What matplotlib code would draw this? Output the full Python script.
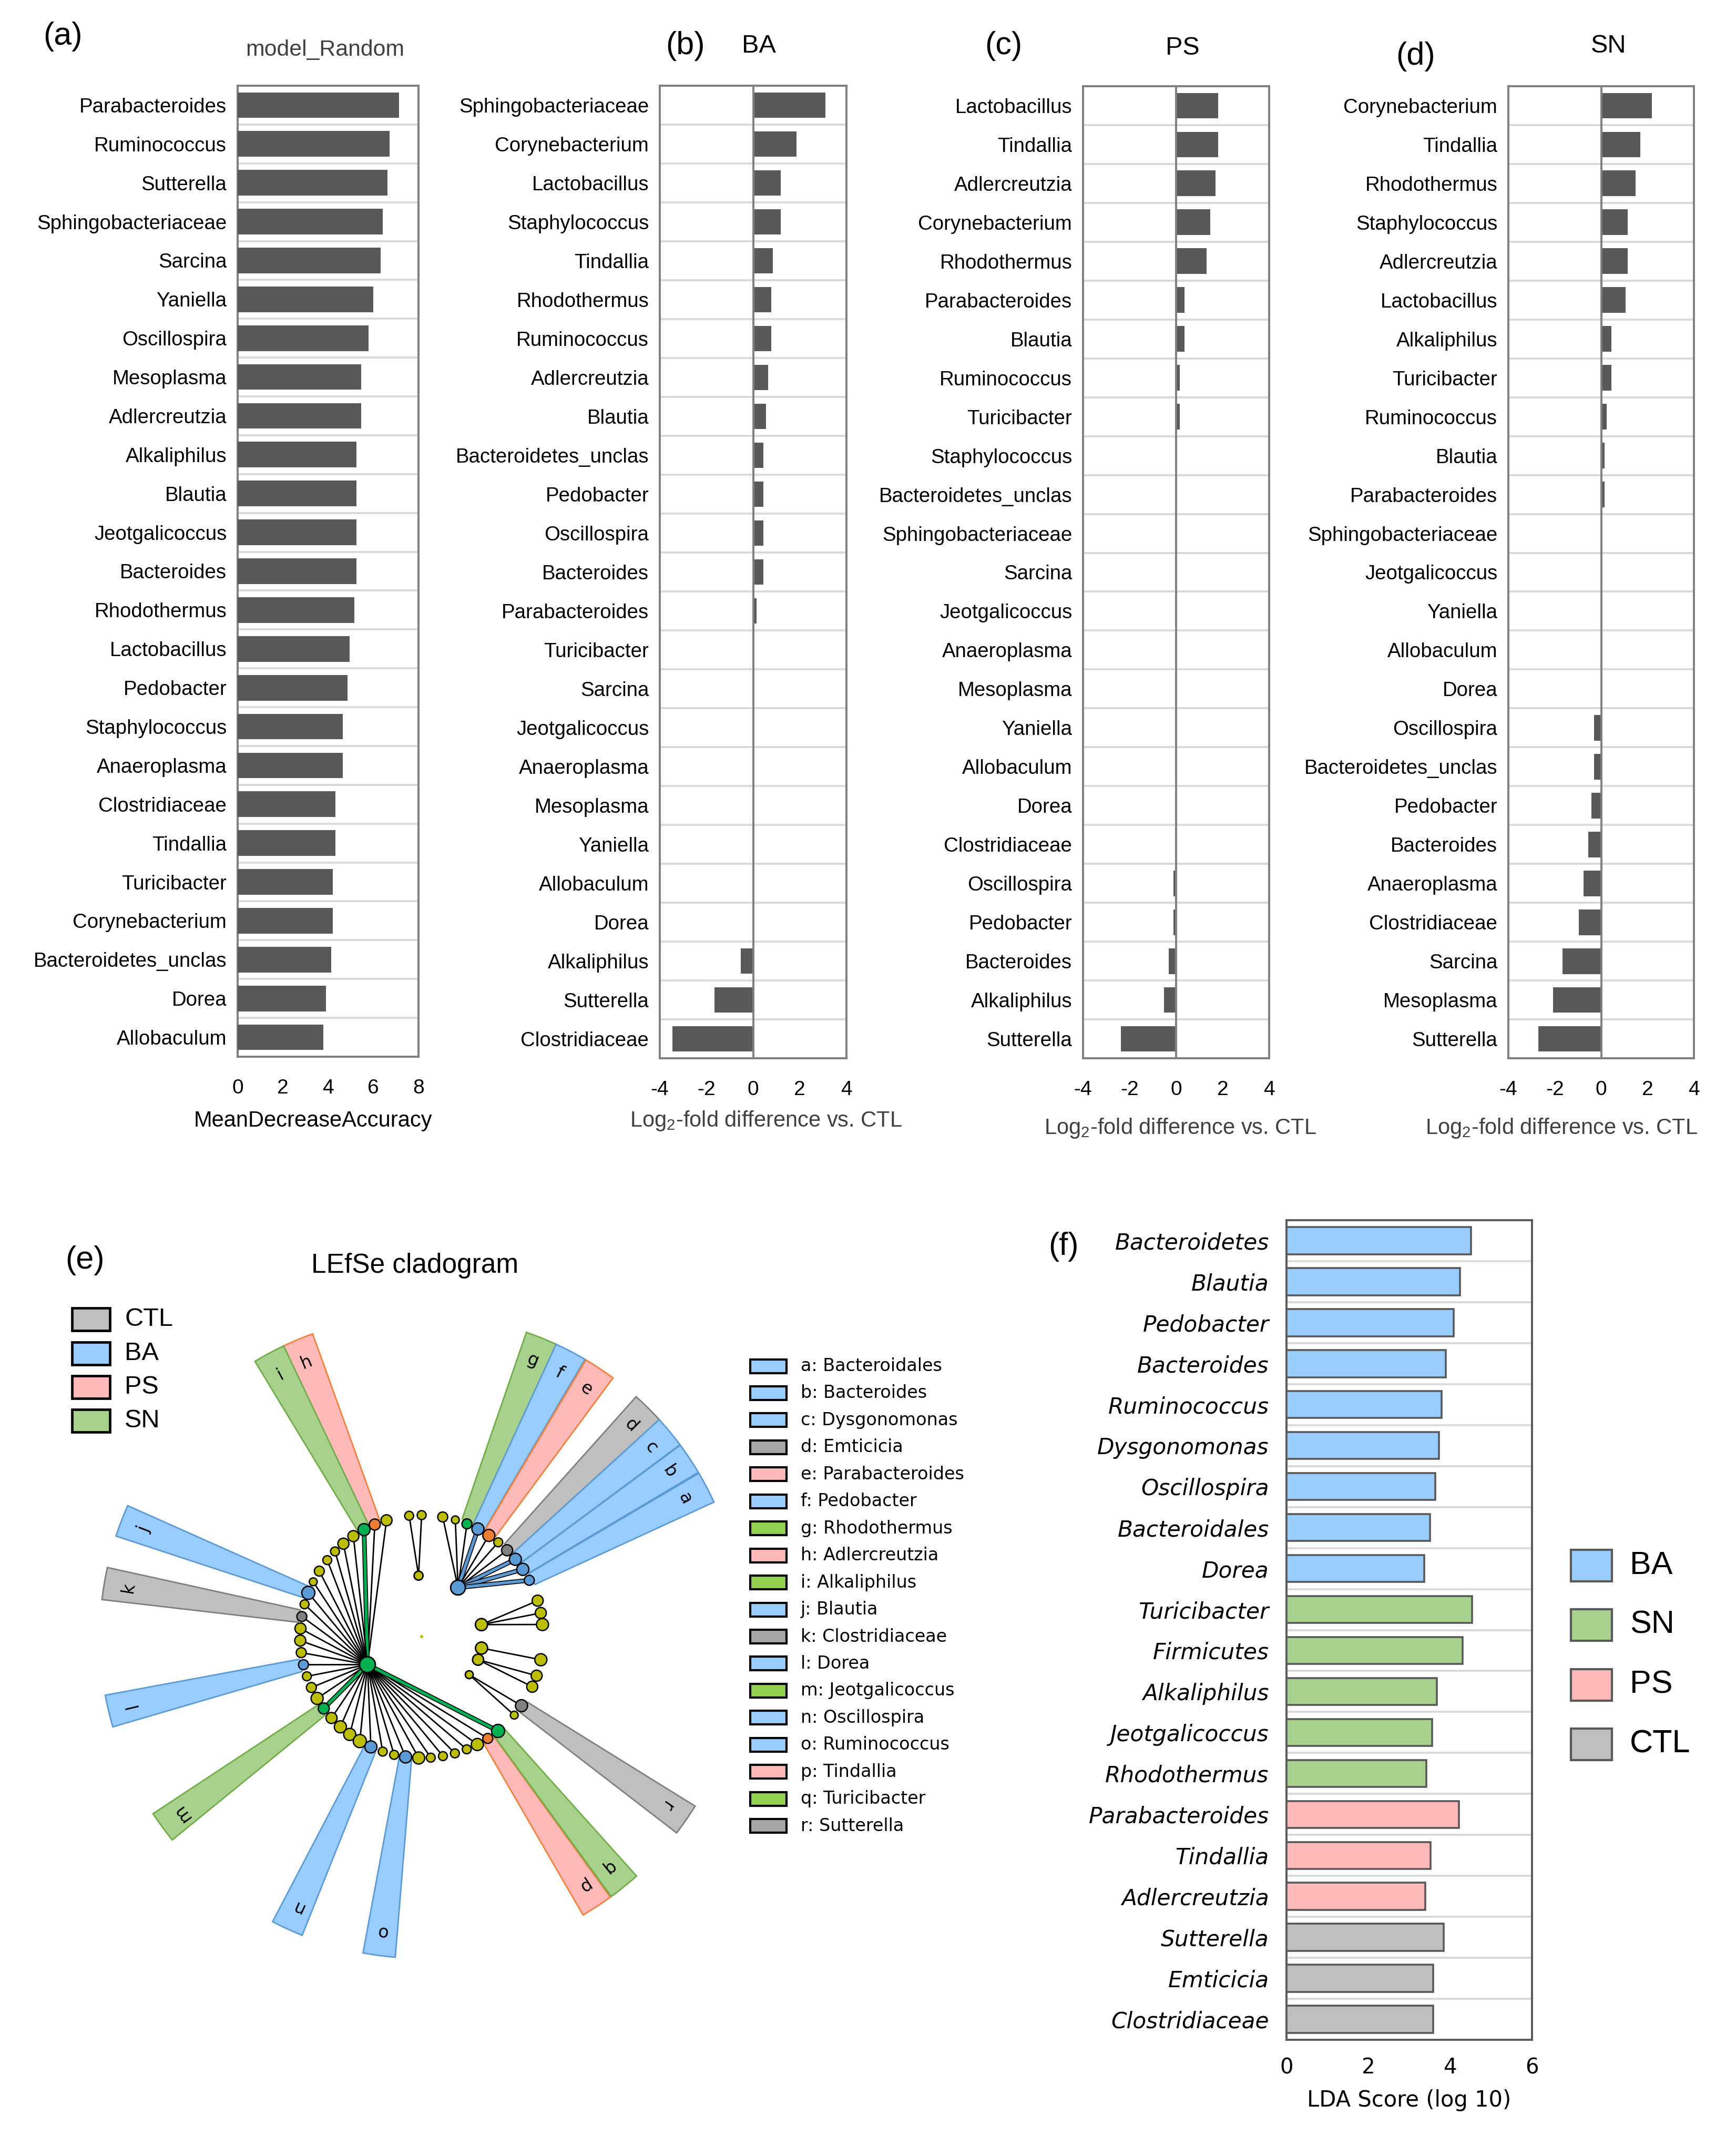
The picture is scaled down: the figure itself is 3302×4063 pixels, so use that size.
import numpy as np
import matplotlib
matplotlib.use('Agg')
import matplotlib.pyplot as plt
from matplotlib.patches import Wedge, Circle, Rectangle

plt.rcParams['font.family'] = ['Liberation Sans', 'DejaVu Sans']
plt.rcParams['mathtext.default'] = 'regular'

W, H, DPI = 3302, 4063, 200

# ==========================================
# DATA
# ==========================================
rf_taxa = ['Parabacteroides', 'Ruminococcus', 'Sutterella', 'Sphingobacteriaceae', 'Sarcina',
           'Yaniella', 'Oscillospira', 'Mesoplasma', 'Adlercreutzia', 'Alkaliphilus', 'Blautia',
           'Jeotgalicoccus', 'Bacteroides', 'Rhodothermus', 'Lactobacillus', 'Pedobacter',
           'Staphylococcus', 'Anaeroplasma', 'Clostridiaceae', 'Tindallia', 'Turicibacter',
           'Corynebacterium', 'Bacteroidetes_unclas', 'Dorea', 'Allobaculum']
rf_mda = [7.13, 6.73, 6.62, 6.41, 6.32, 6.01, 5.80, 5.46, 5.46, 5.26, 5.26, 5.26, 5.26,
          5.16, 4.96, 4.85, 4.65, 4.65, 4.32, 4.32, 4.22, 4.22, 4.13, 3.91, 3.80]

ba_taxa = ['Sphingobacteriaceae', 'Corynebacterium', 'Lactobacillus', 'Staphylococcus', 'Tindallia',
           'Rhodothermus', 'Ruminococcus', 'Adlercreutzia', 'Blautia', 'Bacteroidetes_unclas',
           'Pedobacter', 'Oscillospira', 'Bacteroides', 'Parabacteroides', 'Turicibacter', 'Sarcina',
           'Jeotgalicoccus', 'Anaeroplasma', 'Mesoplasma', 'Yaniella', 'Allobaculum', 'Dorea',
           'Alkaliphilus', 'Sutterella', 'Clostridiaceae']
ba_lfc = [3.10, 1.87, 1.18, 1.18, 0.85, 0.77, 0.77, 0.65, 0.56, 0.45, 0.45, 0.45, 0.45, 0.14,
          0, 0, 0, 0, 0, 0, 0, 0, -0.52, -1.65, -3.46]

ps_taxa = ['Lactobacillus', 'Tindallia', 'Adlercreutzia', 'Corynebacterium', 'Rhodothermus',
           'Parabacteroides', 'Blautia', 'Ruminococcus', 'Turicibacter', 'Staphylococcus',
           'Bacteroidetes_unclas', 'Sphingobacteriaceae', 'Sarcina', 'Jeotgalicoccus', 'Anaeroplasma',
           'Mesoplasma', 'Yaniella', 'Allobaculum', 'Dorea', 'Clostridiaceae', 'Oscillospira',
           'Pedobacter', 'Bacteroides', 'Alkaliphilus', 'Sutterella']
ps_lfc = [1.80, 1.80, 1.69, 1.48, 1.31, 0.37, 0.37, 0.16, 0.16, 0.05, 0.05, 0, 0, 0, 0,
          0, 0, 0, 0, 0, -0.12, -0.12, -0.31, -0.53, -2.37]

sn_taxa = ['Corynebacterium', 'Tindallia', 'Rhodothermus', 'Staphylococcus', 'Adlercreutzia',
           'Lactobacillus', 'Alkaliphilus', 'Turicibacter', 'Ruminococcus', 'Blautia',
           'Parabacteroides', 'Sphingobacteriaceae', 'Jeotgalicoccus', 'Yaniella', 'Allobaculum',
           'Dorea', 'Oscillospira', 'Bacteroidetes_unclas', 'Pedobacter', 'Bacteroides',
           'Anaeroplasma', 'Clostridiaceae', 'Sarcina', 'Mesoplasma', 'Sutterella']
sn_lfc = [2.19, 1.69, 1.48, 1.15, 1.15, 1.06, 0.44, 0.44, 0.24, 0.14, 0.14, 0, 0, 0, 0, 0,
          -0.31, -0.31, -0.41, -0.55, -0.75, -0.96, -1.66, -2.07, -2.70]

lda_taxa = ['Bacteroidetes', 'Blautia', 'Pedobacter', 'Bacteroides', 'Ruminococcus', 'Dysgonomonas',
            'Oscillospira', 'Bacteroidales', 'Dorea', 'Turicibacter', 'Firmicutes', 'Alkaliphilus',
            'Jeotgalicoccus', 'Rhodothermus', 'Parabacteroides', 'Tindallia', 'Adlercreutzia',
            'Sutterella', 'Emticicia', 'Clostridiaceae']
lda_score = [4.51, 4.24, 4.08, 3.89, 3.79, 3.73, 3.64, 3.51, 3.36, 4.54, 4.30, 3.67, 3.56, 3.42,
             4.22, 3.52, 3.39, 3.84, 3.59, 3.58]
lda_group = ['BA'] * 9 + ['SN'] * 5 + ['PS'] * 3 + ['CTL'] * 3

# cladogram: inner nodes (phylum level) and outer nodes (genus level), angles in degrees
hub_angle = [207.4, 53.4, 92.9, 11.3, -10.9, -22.3, -38.7]
hub_group = ['SN', 'BA', '', '', '', '', '']
hub_size = [15, 14, 8.5, 11.5, 11.5, 10.5, 7.5]

leaf_angle = [106.8, 112.7, 118.3, 124.2, 130.1, 135.5, 141.0, 147.4, 153.2, 158.9, 164.6, 170.5,
              176.2, 181.9, 187.6, 193.4, 199.1, 204.8, 210.6, 216.3, 222.1, 228.0, 233.7, 239.4,
              245.3, 251.3, 256.9, 262.4, 268.6, 274.3, 280.1, 285.9, 291.8, 297.3, 303.0, 309.0,
              80.0, 73.9, 68.1, 62.4, 56.4, 50.9, 45.3, 39.5, 33.6, 27.6,
              95.9, 90.0,
              17.2, 11.2, 5.7,
              -11.0,
              -18.8, -24.4,
              -34.7, -40.3]
leaf_hub = [0] * 36 + [1] * 10 + [2] * 2 + [3] * 3 + [4] + [5] * 2 + [6] * 2
leaf_group = ['', 'PS', 'SN', '', '', '', '', '', '', 'BA', '', 'CTL',
              '', '', '', 'BA', '', '', '', 'SN', '', '', '', '',
              'BA', '', '', 'BA', '', '', '', '', '', '', 'PS', 'SN',
              '', '', 'SN', 'BA', 'PS', '', 'CTL', 'BA', 'BA', 'BA',
              '', '',
              '', '', '',
              '',
              '', '',
              'CTL', '']
leaf_size = [10.5, 10.5, 11.5, 10.5, 10.5, 8.5, 8.5, 9.5, 7.5, 12.5, 8.5, 9.5,
             10.5, 10.5, 9.5, 9.5, 8.5, 9.5, 11.5, 10.5, 10.5, 11.5, 11.5, 12.5,
             11.5, 8.5, 8.5, 11.5, 11.5, 8.5, 8.5, 8.5, 8.5, 11.5, 9.5, 12.5,
             9.5, 7.5, 9.5, 11.5, 11.5, 8.5, 10.5, 11.5, 11.5, 9.5,
             8.5, 8.5,
             10.5, 10.5, 11.5,
             11.5,
             10.5, 10.5,
             11.5, 7.5]
leaf_letter = ['', 'h', 'i', '', '', '', '', '', '', 'j', '', 'k',
               '', '', '', 'l', '', '', '', 'm', '', '', '', '',
               'n', '', '', 'o', '', '', '', '', '', '', 'p', 'q',
               '', '', 'g', 'f', 'e', '', 'd', 'c', 'b', 'a',
               '', '',
               '', '', '',
               '',
               '', '',
               'r', '']

clade_letters = list('abcdefghijklmnopqr')
clade_names = ['Bacteroidales', 'Bacteroides', 'Dysgonomonas', 'Emticicia', 'Parabacteroides',
               'Pedobacter', 'Rhodothermus', 'Adlercreutzia', 'Alkaliphilus', 'Blautia',
               'Clostridiaceae', 'Dorea', 'Jeotgalicoccus', 'Oscillospira', 'Ruminococcus',
               'Tindallia', 'Turicibacter', 'Sutterella']
clade_groups = ['BA', 'BA', 'BA', 'CTL', 'PS', 'BA', 'SN', 'PS', 'SN', 'BA', 'CTL', 'BA', 'SN',
                'BA', 'BA', 'PS', 'SN', 'CTL']

groups_e = ['CTL', 'BA', 'PS', 'SN']
groups_f = ['BA', 'SN', 'PS', 'CTL']

# ==========================================
# STYLE
# ==========================================
fill = {'CTL': '#bfbfbf', 'BA': '#99ccff', 'PS': '#ffb9b9', 'SN': '#a9d18e'}
edge = {'CTL': '#7f7f7f', 'BA': '#5b9bd5', 'PS': '#f4813a', 'SN': '#70ad47'}
node = {'': '#bdbd00', 'CTL': '#808080', 'BA': '#5b9bd5', 'PS': '#ed7d31', 'SN': '#00b050'}
key_fill = {'CTL': '#a6a6a6', 'BA': '#99ccff', 'PS': '#ffb9b9', 'SN': '#92d050'}
BAR = '#595959'
SPINE = '#7f7f7f'
GRID = '#d9d9d9'


def fx(px):
    return px / W


def fy(py):
    return 1 - py / H


def rect_px(x0, y0, x1, y1):
    return [fx(x0), fy(y1), fx(x1) - fx(x0), fy(y0) - fy(y1)]


fig = plt.figure(figsize=(W / DPI, H / DPI), dpi=DPI)


# ==========================================
# PANELS a-d: horizontal bars
# ==========================================
def bar_panel(box, taxa, vals, xlim, xticks, zero=False):
    ax = fig.add_axes(rect_px(*box))
    y = np.arange(len(taxa))
    ax.barh(y, vals, height=0.66, color=BAR, zorder=3)
    for b in y[:-1] + 0.5:
        ax.axhline(b, color=GRID, lw=1.4, zorder=1)
    if zero:
        ax.axvline(0, color=SPINE, lw=1.4, zorder=4)
    ax.set_ylim(len(taxa) - 0.5, -0.5)
    ax.set_xlim(*xlim)
    ax.set_yticks(y)
    ax.set_yticklabels(taxa)
    ax.set_xticks(xticks)
    ax.set_xticklabels([str(t) for t in xticks])
    ax.tick_params(axis='y', length=0, pad=7.5, labelsize=13.8)
    ax.tick_params(axis='x', length=0, pad=15, labelsize=14)
    for s in ax.spines.values():
        s.set_color(SPINE)
        s.set_linewidth(1.4)
    return ax


bar_panel((452, 163, 796, 2010), rf_taxa, rf_mda, (0, 8), [0, 2, 4, 6, 8])
bar_panel((1255, 163, 1610, 2013), ba_taxa, ba_lfc, (-4, 4), [-4, -2, 0, 2, 4], zero=True)
bar_panel((2060, 164, 2414, 2013), ps_taxa, ps_lfc, (-4, 4), [-4, -2, 0, 2, 4], zero=True)
bar_panel((2869, 164, 3222, 2013), sn_taxa, sn_lfc, (-4, 4), [-4, -2, 0, 2, 4], zero=True)

fig.text(fx(119), fy(70), '(a)', fontsize=22, ha='center', va='center')
fig.text(fx(618), fy(95), 'model_Random', fontsize=15.4, color='#404040', ha='center', va='center')
fig.text(fx(1303), fy(88), '(b)', fontsize=22, ha='center', va='center')
fig.text(fx(1443), fy(88), 'BA', fontsize=17.5, ha='center', va='center')
fig.text(fx(1909), fy(88), '(c)', fontsize=22, ha='center', va='center')
fig.text(fx(2249), fy(92), 'PS', fontsize=17.5, ha='center', va='center')
fig.text(fx(2693), fy(107), '(d)', fontsize=22, ha='center', va='center')
fig.text(fx(3060), fy(88), 'SN', fontsize=17.5, ha='center', va='center')

fig.text(fx(595), fy(2132), 'MeanDecreaseAccuracy', fontsize=15, ha='center', va='center')
lfc_label = 'Log$_2$-fold difference vs. CTL'
fig.text(fx(1457), fy(2132), lfc_label, fontsize=15, color='#404040', ha='center', va='center')
fig.text(fx(2245), fy(2146), lfc_label, fontsize=15, color='#404040', ha='center', va='center')
fig.text(fx(2970), fy(2146), lfc_label, fontsize=15, color='#404040', ha='center', va='center')

# ==========================================
# PANEL e: LEfSe cladogram
# ==========================================
cx, cy = 802, 3113
R_HUB, R_LEAF, R_IN, R_OUT, R_LAB = 116, 231, 237, 612, 566
HALF = 2.9
e_box = (0, 2250, 2050, 3800)
ax_e = fig.add_axes(rect_px(*e_box))
ax_e.set_xlim(e_box[0] - cx, e_box[2] - cx)
ax_e.set_ylim(cy - e_box[3], cy - e_box[1])
ax_e.axis('off')
ax_e.patch.set_alpha(0)


def polar(r, deg):
    t = np.deg2rad(deg)
    return r * np.cos(t), r * np.sin(t)


# highlighted clades
for ang, grp, let in zip(leaf_angle, leaf_group, leaf_letter):
    if not let:
        continue
    ax_e.add_patch(Wedge((0, 0), R_OUT, ang - HALF, ang + HALF, width=R_OUT - R_IN,
                         facecolor=fill[grp], edgecolor=edge[grp], lw=1.0, zorder=1))
    lx, ly = polar(R_LAB, ang)
    ax_e.text(lx, ly, let, fontsize=12, family='DejaVu Sans', rotation=ang - 90,
              ha='center', va='center', rotation_mode='anchor', zorder=5)

# branches
for ang, hub, grp in zip(leaf_angle, leaf_hub, leaf_group):
    hx, hy = polar(R_HUB, hub_angle[hub])
    lx, ly = polar(R_LEAF, ang)
    if grp and grp == hub_group[hub]:
        ax_e.plot([hx, lx], [hy, ly], color='black', lw=3.2, solid_capstyle='butt', zorder=2)
        ax_e.plot([hx, lx], [hy, ly], color=node[grp], lw=2.0, solid_capstyle='butt', zorder=2)
    else:
        ax_e.plot([hx, lx], [hy, ly], color='black', lw=1.0, zorder=2)

# nodes
for ang, grp, sz in zip(leaf_angle, leaf_group, leaf_size):
    ax_e.add_patch(Circle(polar(R_LEAF, ang), sz, facecolor=node[grp], edgecolor='black',
                          lw=0.9, zorder=3))
for ang, grp, sz in zip(hub_angle, hub_group, hub_size):
    ax_e.add_patch(Circle(polar(R_HUB, ang), sz, facecolor=node[grp], edgecolor='black',
                          lw=1.0, zorder=4))
ax_e.add_patch(Circle((0, 0), 3, facecolor=node[''], edgecolor='none', zorder=3))

fig.text(fx(161), fy(2398), '(e)', fontsize=22, ha='center', va='center')
fig.text(fx(789), fy(2408), 'LEfSe cladogram', fontsize=18.5, ha='center', va='center')


def key_column(x, y0, step, w, h, labels, colors, dx, fs, family, ec, lw):
    for i, (lab, col) in enumerate(zip(labels, colors)):
        yc = y0 + i * step
        fig.add_artist(Rectangle((fx(x), fy(yc + h / 2)), w / W, h / H, transform=fig.transFigure,
                                 facecolor=col, edgecolor=ec, lw=lw))
        fig.text(fx(x + dx), fy(yc), lab, fontsize=fs, family=family, ha='left', va='center')


key_column(137, 2510, 64.3, 72, 43, groups_e, [fill[g] for g in groups_e], 100, 17.5,
           'Liberation Sans', 'black', 1.7)
key_column(1427, 2598.5, 51.45, 69, 26,
           [f'{l}: {n}' for l, n in zip(clade_letters, clade_names)],
           [key_fill[g] for g in clade_groups], 96, 12, 'DejaVu Sans', 'black', 1.5)

# ==========================================
# PANEL f: LDA scores
# ==========================================
ax_f = fig.add_axes(rect_px(2447, 2321, 2914, 3880))
yf = np.arange(len(lda_taxa))
ax_f.barh(yf, lda_score, height=0.66, color=[fill[g] for g in lda_group],
          edgecolor=BAR, lw=1.3, zorder=3)
for b in yf[:-1] + 0.5:
    ax_f.axhline(b, color=GRID, lw=1.4, zorder=1)
ax_f.set_ylim(len(lda_taxa) - 0.5, -0.5)
ax_f.set_xlim(0, 6)
ax_f.set_xticks([0, 2, 4, 6])
ax_f.set_yticks(yf)
ax_f.set_yticklabels(lda_taxa, fontstyle='italic', family='DejaVu Sans', fontsize=15.2)
for lab in ax_f.get_xticklabels():
    lab.set_family('DejaVu Sans')
ax_f.tick_params(axis='y', length=0, pad=12)
ax_f.tick_params(axis='x', length=0, pad=12, labelsize=14.5)
for s in ax_f.spines.values():
    s.set_color(BAR)
    s.set_linewidth(1.4)
fig.text(fx(2680), fy(3995), 'LDA Score (log 10)', fontsize=15, family='DejaVu Sans',
         ha='center', va='center')
fig.text(fx(2023), fy(2371), '(f)', fontsize=22, ha='center', va='center')

key_column(2988, 2978, 113.3, 78, 60, groups_f, [fill[g] for g in groups_f], 112, 22,
           'Liberation Sans', BAR, 1.5)

fig.savefig('out.png', dpi=DPI)
